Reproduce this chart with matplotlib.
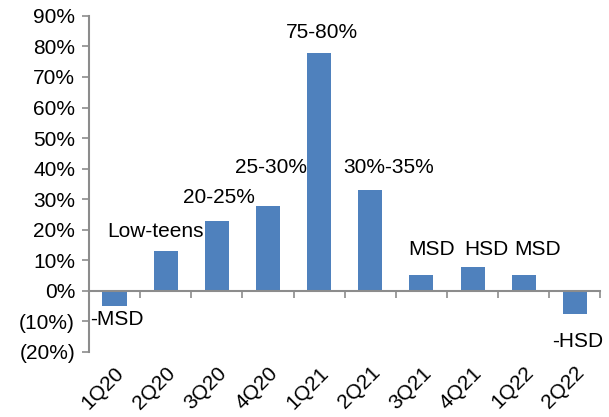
import matplotlib
matplotlib.use("Agg")
import matplotlib.pyplot as plt
from matplotlib.ticker import FuncFormatter, MultipleLocator

quarters = ["1Q20", "2Q20", "3Q20", "4Q20", "1Q21", "2Q21", "3Q21", "4Q21", "1Q22", "2Q22"]
growth = [-4.8, 13.0, 22.7, 27.8, 77.8, 33.0, 5.3, 7.8, 5.3, -7.5]
labels = ["-MSD", "Low-teens", "20-25%", "25-30%", "75-80%", "30%-35%", "MSD", "HSD", "MSD", "-HSD"]
# label anchor (x offset in categories, y in %)
label_pos = [(0.05, -9.5), (-0.2, 19.3), (0.05, 30.4), (0.05, 40.5), (0.05, 84.6), (0.35, 40.5),
             (0.2, 13.4), (0.27, 13.4), (0.27, 13.4), (0.05, -16.7)]

plt.rcParams["font.family"] = ["Liberation Sans", "DejaVu Sans"]
FS = 15

fig = plt.figure(figsize=(6.09, 4.17), dpi=100)
ax = fig.add_axes([0.146, 0.156, 0.84, 0.806])

x = list(range(len(quarters)))
ax.bar(x, growth, width=0.47, color="#4F81BD", zorder=2)

for i, (txt, (dx, yy)) in enumerate(zip(labels, label_pos)):
    ax.text(i + dx, yy, txt, ha="center", va="center", fontsize=FS, color="black")

ax.set_xlim(-0.5, len(quarters) - 0.5)
ax.set_ylim(-20, 90)
ax.yaxis.set_major_locator(MultipleLocator(10))
ax.yaxis.set_major_formatter(FuncFormatter(lambda v, p: f"({abs(v):.0f}%)" if v < 0 else f"{v:.0f}%"))
ax.tick_params(axis="y", labelsize=FS, length=5, width=1.2, color="#8c8c8c", direction="out", pad=5)

# category axis sits on the zero line, with ticks between categories
ax.spines["bottom"].set_position(("data", 0))
for s in ["top", "right"]:
    ax.spines[s].set_visible(False)
for s in ["left", "bottom"]:
    ax.spines[s].set_color("#8c8c8c")
    ax.spines[s].set_linewidth(1.5)

ax.set_xticks([i + 0.5 for i in range(-1, len(quarters))], minor=True)
ax.tick_params(axis="x", which="minor", length=5, width=1.2, color="#8c8c8c", direction="out")
ax.set_xticks(x)
ax.tick_params(axis="x", which="major", length=0)
ax.set_xticklabels([])
for i, q in enumerate(quarters):
    ax.annotate(q, xy=(i, -20), xycoords="data", xytext=(0, -8), textcoords="offset points",
                rotation=45, ha="right", va="top", rotation_mode="anchor", fontsize=FS)

fig.savefig("out.png", dpi=100)
